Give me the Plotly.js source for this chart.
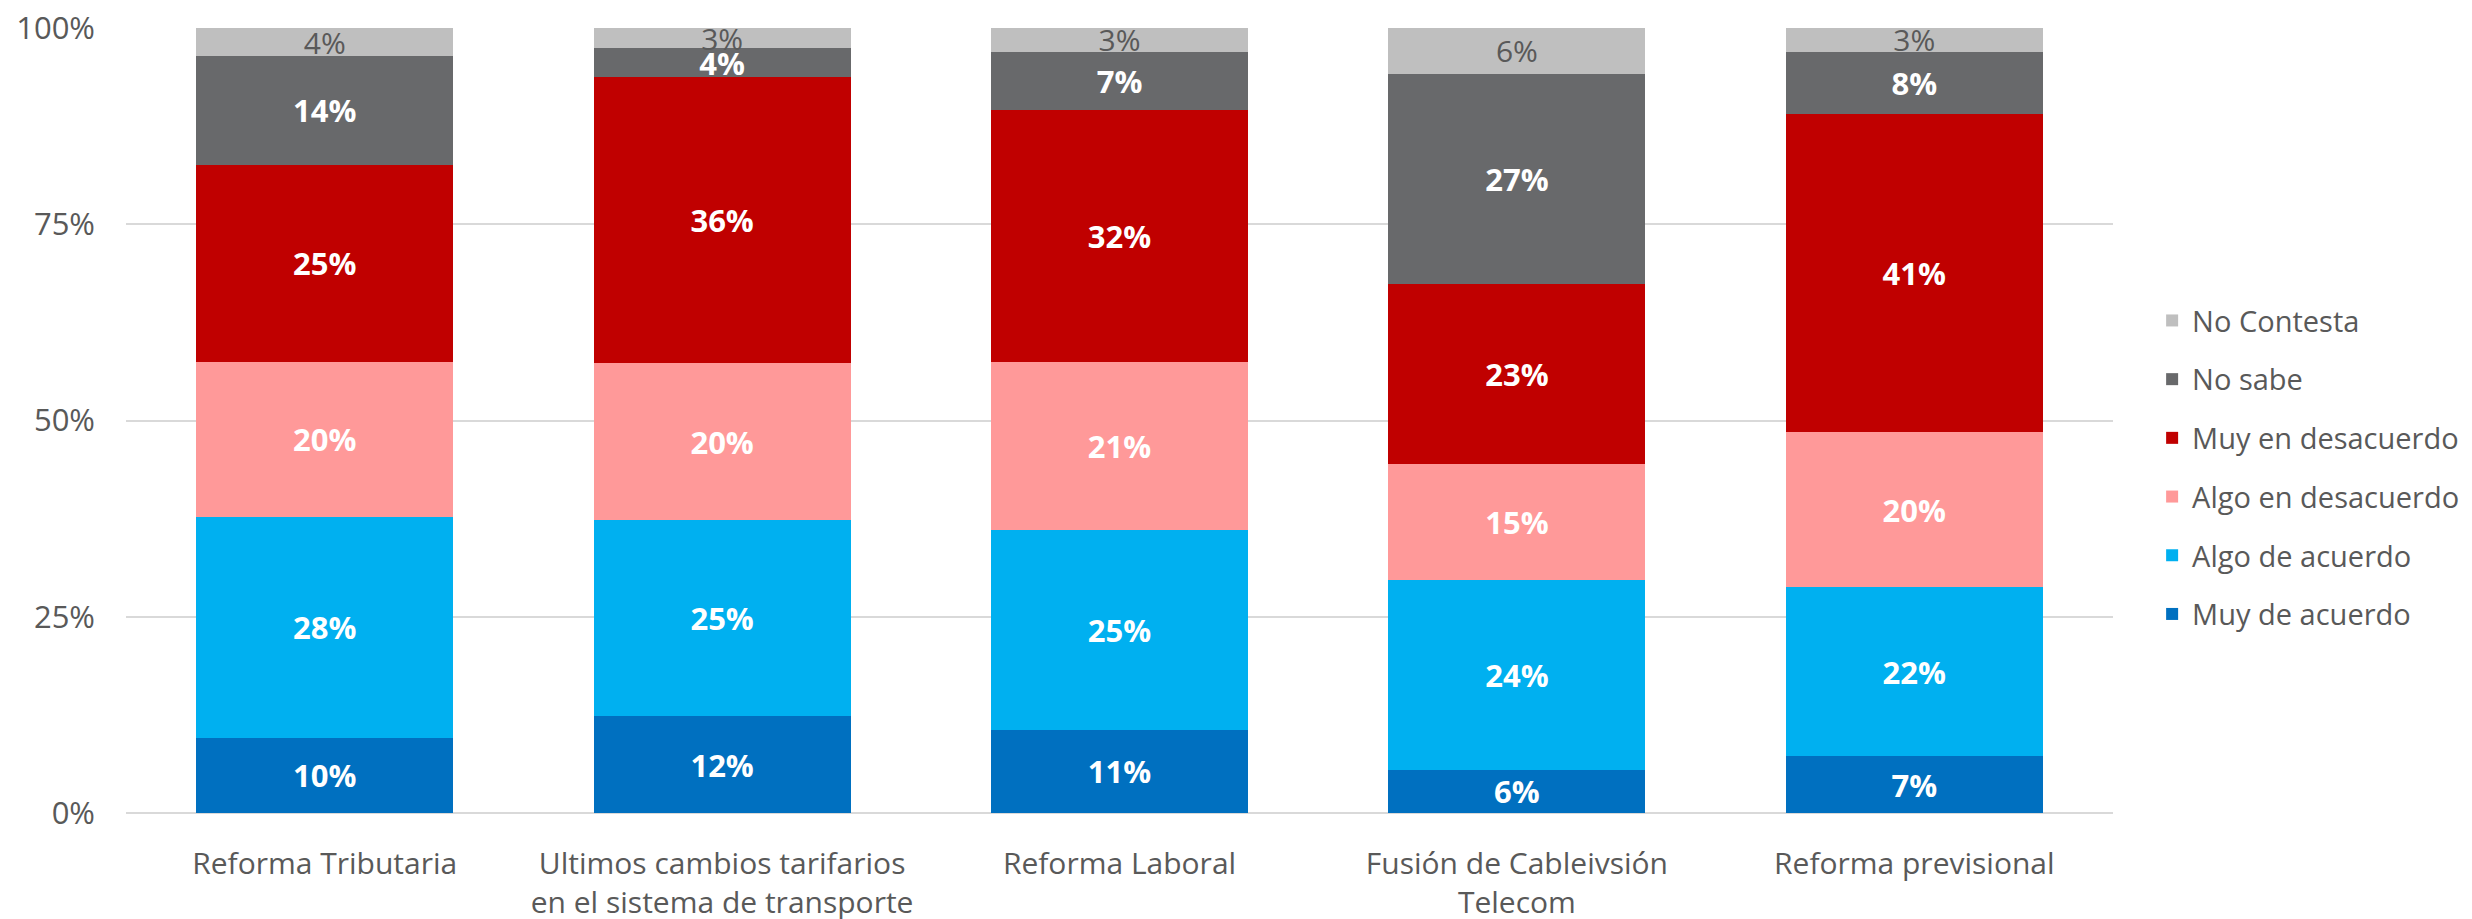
<!DOCTYPE html>
<html><head><meta charset="utf-8">
<script src="https://cdn.plot.ly/plotly-3.0.1.min.js"></script>
<style>html,body{margin:0;padding:0;background:#fff}#chart{width:2472px;height:919px}</style>
</head><body><div id="chart"></div>
<script>
const categories = ["Reforma Tributaria", "Ultimos cambios tarifarios<br>en el sistema de transporte", "Reforma Laboral", "Fusión de Cableivsión<br>Telecom", "Reforma previsional"];
const muyDeAcuerdo     = [9.6, 12.3, 10.6, 5.5, 7.2];
const algoDeAcuerdo    = [28.1, 25.0, 25.4, 24.2, 21.6];
const algoEnDesacuerdo = [19.8, 20.0, 21.4, 14.8, 19.7];
const muyEnDesacuerdo  = [25.1, 36.4, 32.2, 22.9, 40.6];
const noSabe           = [13.8, 3.7, 7.4, 26.8, 7.9];
const noContesta       = [3.6, 2.6, 3.0, 5.8, 3.0];
const topEdge          = [0.15, 0.15, 0.15, 0.15, 0.15];
const tickVals = [0, 25, 50, 75, 100];
const tickText = ["0%", "25%", "50%", "75%", "100%"];

const FONT = "Open Sans, Segoe UI, sans-serif";
function mk(name, vals, color, txtColor, bold, rank) {
  return {
    type: "bar", name: name, x: categories, y: vals,
    marker: {color: color, line: {width: 0}},
    text: vals.map(v => Math.round(v) + "%"),
    textposition: "inside", insidetextanchor: "middle", textangle: 0,
    constraintext: "none",
    insidetextfont: {family: FONT, size: bold ? 31 : 30, color: txtColor, weight: bold ? "bold" : "normal"},
    hoverinfo: "name+y", legendgroup: "g" + rank, legendrank: rank
  };
}
const traces = [
  mk("Muy de acuerdo", muyDeAcuerdo, "#0070C0", "#FFFFFF", true, 6),
  mk("Algo de acuerdo", algoDeAcuerdo, "#00B0F0", "#FFFFFF", true, 5),
  mk("Algo en desacuerdo", algoEnDesacuerdo, "#FF9999", "#FFFFFF", true, 4),
  mk("Muy en desacuerdo", muyEnDesacuerdo, "#C00000", "#FFFFFF", true, 3),
  mk("No sabe", noSabe, "#68696B", "#FFFFFF", true, 2),
  mk("No Contesta", noContesta, "#BFBFBF", "#595959", false, 1),
  {type: "bar", name: "edge", x: categories, y: topEdge, marker: {color: "#BF9000"},
   showlegend: false, hoverinfo: "skip", cliponaxis: false, legendgroup: "g7"}
];
const layout = {
  width: 2472, height: 919,
  margin: {l: 126, r: 359, t: 28, b: 106},
  barmode: "stack", bargap: 0.353,
  paper_bgcolor: "#FFFFFF", plot_bgcolor: "#FFFFFF",
  font: {family: FONT, color: "#595959", size: 30},
  xaxis: {type: "category", showgrid: false, showline: false, ticks: "",
          tickfont: {family: FONT, size: 30, color: "#595959"}, ticklabelstandoff: 30},
  yaxis: {range: [0, 100], tickvals: tickVals, ticktext: tickText, showgrid: true,
          gridcolor: "#D9D9D9", gridwidth: 2, zeroline: true, zerolinecolor: "#D9D9D9", zerolinewidth: 2,
          showline: false, ticks: "", tickfont: {family: FONT, size: 31, color: "#595959"},
          ticklabelstandoff: 30},
  showlegend: true,
  legend: {xref: "container", x: 0.8706, xanchor: "left", y: 0.44, yanchor: "middle",
           traceorder: "grouped", tracegroupgap: 18,
           font: {family: FONT, size: 29, color: "#595959"}, bgcolor: "rgba(0,0,0,0)"}
};
Plotly.newPlot("chart", traces, layout, {displayModeBar: false, staticPlot: true});
</script>
</body></html>
